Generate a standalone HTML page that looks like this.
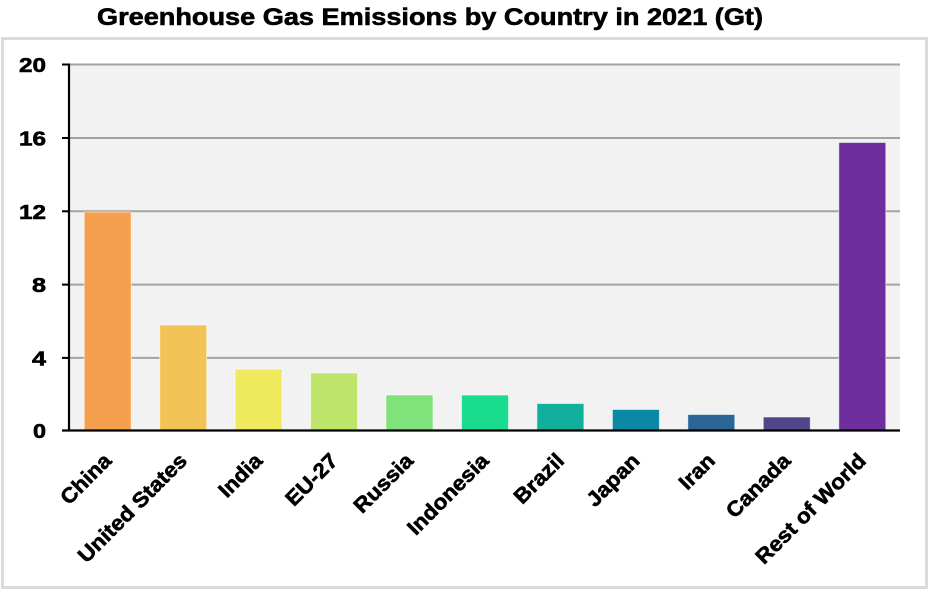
<!DOCTYPE html>
<html><head><meta charset="utf-8"><style>
html,body{margin:0;padding:0;background:#fff;}
svg{display:block;}
text{font-family:"Liberation Sans",sans-serif;font-weight:bold;fill:#000;stroke:#000;stroke-width:0.6;}
</style></head><body>
<svg width="930" height="590" viewBox="0 0 930 590" xmlns="http://www.w3.org/2000/svg">
<rect x="0" y="0" width="930" height="590" fill="#fff"/>
<text x="430" y="25" font-size="24" text-anchor="middle" textLength="666" lengthAdjust="spacingAndGlyphs">Greenhouse Gas Emissions by Country in 2021 (Gt)</text>
<rect x="2.5" y="38.5" width="924" height="549" fill="none" stroke="#dadada" stroke-width="3"/>
<rect x="70" y="64" width="830" height="366.5" fill="#f2f2f2"/>
<g stroke="#a3a3a3" stroke-width="2">
<line x1="62" y1="64.5" x2="900" y2="64.5"/>
<line x1="62" y1="138" x2="900" y2="138"/>
<line x1="62" y1="211.3" x2="900" y2="211.3"/>
<line x1="62" y1="284.6" x2="900" y2="284.6"/>
<line x1="62" y1="357.9" x2="900" y2="357.9"/>
</g>
<g stroke="#000" stroke-width="2">
<line x1="62" y1="64.5" x2="69" y2="64.5"/>
<line x1="62" y1="138" x2="69" y2="138"/>
<line x1="62" y1="211.3" x2="69" y2="211.3"/>
<line x1="62" y1="284.6" x2="69" y2="284.6"/>
<line x1="62" y1="357.9" x2="69" y2="357.9"/>
</g>
<g stroke="rgba(255,255,255,0.55)" stroke-width="1">
<rect x="84.2" y="212" width="47" height="218.5" fill="#f4a04e"/>
<rect x="159.7" y="325" width="47" height="105.5" fill="#f2c457"/>
<rect x="235.1" y="369" width="47" height="61.5" fill="#eee95d"/>
<rect x="310.6" y="373" width="47" height="57.5" fill="#bde66b"/>
<rect x="386" y="395" width="47" height="35.5" fill="#80e27a"/>
<rect x="461.5" y="395" width="47" height="35.5" fill="#19dc8f"/>
<rect x="536.9" y="403.5" width="47" height="27" fill="#10b09d"/>
<rect x="612.4" y="409.5" width="47" height="21" fill="#0a88a6"/>
<rect x="687.8" y="414.5" width="47" height="16" fill="#2b6697"/>
<rect x="763.3" y="417" width="47" height="13.5" fill="#51468a"/>
<rect x="838.8" y="142.5" width="47" height="288" fill="#6e2e9e"/>
</g>
<line x1="69" y1="63.5" x2="69" y2="431.5" stroke="#000" stroke-width="2.2"/>
<line x1="62" y1="430.5" x2="900" y2="430.5" stroke="#000" stroke-width="2.2"/>
<g font-size="20" text-anchor="end" lengthAdjust="spacingAndGlyphs">
<text x="46" y="72" textLength="27" lengthAdjust="spacingAndGlyphs">20</text>
<text x="46" y="145.5" textLength="27" lengthAdjust="spacingAndGlyphs">16</text>
<text x="46" y="218.8" textLength="27" lengthAdjust="spacingAndGlyphs">12</text>
<text x="46" y="292" textLength="14" lengthAdjust="spacingAndGlyphs">8</text>
<text x="46" y="365.4" textLength="14" lengthAdjust="spacingAndGlyphs">4</text>
<text x="46" y="438" textLength="13" lengthAdjust="spacingAndGlyphs">0</text>
</g>
<g font-size="21" text-anchor="end">
<text transform="translate(112.7,462) rotate(-45)" textLength="62" lengthAdjust="spacingAndGlyphs">China</text>
<text transform="translate(188.2,462) rotate(-45)" textLength="144" lengthAdjust="spacingAndGlyphs">United States</text>
<text transform="translate(263.6,462) rotate(-45)" textLength="52" lengthAdjust="spacingAndGlyphs">India</text>
<text transform="translate(339.1,462) rotate(-45)" textLength="64" lengthAdjust="spacingAndGlyphs">EU-27</text>
<text transform="translate(414.5,462) rotate(-45)" textLength="74" lengthAdjust="spacingAndGlyphs">Russia</text>
<text transform="translate(490,462) rotate(-45)" textLength="105" lengthAdjust="spacingAndGlyphs">Indonesia</text>
<text transform="translate(565.4,462) rotate(-45)" textLength="61" lengthAdjust="spacingAndGlyphs">Brazil</text>
<text transform="translate(640.9,462) rotate(-45)" textLength="65" lengthAdjust="spacingAndGlyphs">Japan</text>
<text transform="translate(716.3,462) rotate(-45)" textLength="41" lengthAdjust="spacingAndGlyphs">Iran</text>
<text transform="translate(791.8,462) rotate(-45)" textLength="81" lengthAdjust="spacingAndGlyphs">Canada</text>
<text transform="translate(867.3,462) rotate(-45)" textLength="146" lengthAdjust="spacingAndGlyphs">Rest of World</text>
</g>
</svg>
</body></html>
